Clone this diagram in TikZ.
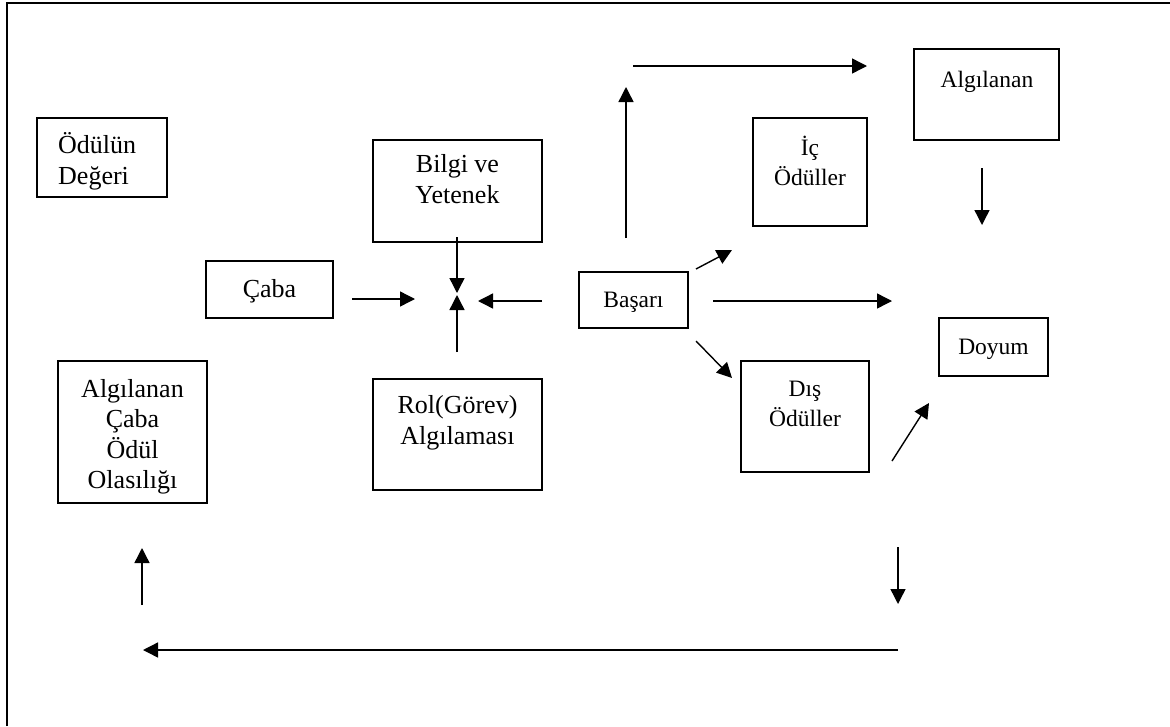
\documentclass[tikz,border=0pt]{standalone}
\usepackage{fontspec}
\setmainfont{Liberation Serif}
\usetikzlibrary{arrows.meta}
\newcommand{\txtstack}[2][c]{\begin{tabular}[t]{@{}#1@{}}#2\end{tabular}}
\begin{document}
\begin{tikzpicture}[x=1pt,y=-1pt,
  box/.style={draw, line width=1.5pt, rectangle, inner sep=0pt},
  lbl/.style={anchor=base, inner sep=0pt, font=\fontsize{26}{31}\selectfont},
  lblr/.style={anchor=base, inner sep=0pt, font=\fontsize{23.5}{30}\selectfont},
  arr/.style={line width=1.4pt, -{Triangle[length=15pt,width=15pt]}}]
\useasboundingbox (0,0) rectangle (1170,726);
% outer frame (left and top edges)
\draw[line width=2pt] (6.5,726) -- (6.5,3) -- (1170,3);

% boxes
\node[box, minimum width=130pt, minimum height=79pt]  (odul)    at (102,157.5) {};
\node[box, minimum width=169pt, minimum height=102pt] (bilgi)   at (457.5,191) {};
\node[box, minimum width=127pt, minimum height=57pt]  (caba)    at (269.5,289.5) {};
\node[box, minimum width=169pt, minimum height=111pt] (rol)     at (457.5,434.5) {};
\node[box, minimum width=109pt, minimum height=56pt]  (basari)  at (633.5,300) {};
\node[box, minimum width=114pt, minimum height=108pt] (ic)      at (810,172) {};
\node[box, minimum width=145pt, minimum height=91pt]  (algtr)   at (986.5,94.5) {};
\node[box, minimum width=128pt, minimum height=111pt] (dis)     at (805,416.5) {};
\node[box, minimum width=109pt, minimum height=58pt]  (doyum)   at (993.5,347) {};
\node[box, minimum width=149pt, minimum height=142pt] (olasilik) at (132.5,432) {};

% labels
\node[lbl, anchor=base west] (todul) at (58,153) {\txtstack[l]{Ödülün\\Değeri}};
\node[lbl] (tbilgi) at (457.5,172) {\txtstack{Bilgi ve\\Yetenek}};
\node[lbl] (tcaba) at (269.5,297) {Çaba};
\node[lbl] (trol) at (457.5,413) {\txtstack{Rol(Görev)\\Algılaması}};
\node[lblr] (tbasari) at (633.5,307) {Başarı};
\node[lblr] (tic) at (810,155) {\txtstack{İç\\Ödüller}};
\node[lblr] (talgtr) at (987,87) {Algılanan};
\node[lblr] (tdis) at (805,396) {\txtstack{Dış\\Ödüller}};
\node[lblr] (tdoyum) at (993.5,354) {Doyum};
\node[lbl, font=\fontsize{26}{30.5}\selectfont] (tolasilik) at (132.5,397) {\txtstack{Algılanan\\Çaba\\Ödül\\Olasılığı}};

% connector end points
\coordinate (bilgiS) at (457,237);   \coordinate (bilgiE) at (457,293);
\coordinate (rolS) at (457,352);     \coordinate (rolE) at (457,295);
\coordinate (cabaS) at (352,299);    \coordinate (cabaE) at (415,299);
\coordinate (basL) at (542,301);     \coordinate (basLE) at (478,301);
\coordinate (basIc) at (696,269);    \coordinate (icE) at (732,250);
\coordinate (basR) at (713,301);     \coordinate (basRE) at (892,301);
\coordinate (basDis) at (696,341);   \coordinate (disE) at (732,378);
\coordinate (disS) at (892,461);     \coordinate (doyE) at (929,403);
\coordinate (basU) at (626,238);     \coordinate (basUE) at (626,87);
\coordinate (topS) at (633,66);      \coordinate (topE) at (867,66);
\coordinate (algS) at (982,168);     \coordinate (algE) at (982,225);
\coordinate (brS) at (898,547);      \coordinate (brE) at (898,604);
\coordinate (botS) at (898,650);     \coordinate (botE) at (143,650);
\coordinate (lupS) at (142,605);     \coordinate (lupE) at (142,548);

% connectors
\draw[arr] (bilgiS) -- (bilgiE);
\draw[arr] (rolS) -- (rolE);
\draw[arr] (cabaS) -- (cabaE);
\draw[arr] (basL) -- (basLE);
\draw[arr] (basIc) -- (icE);
\draw[arr] (basR) -- (basRE);
\draw[arr] (basDis) -- (disE);
\draw[arr] (disS) -- (doyE);
\draw[arr] (basU) -- (basUE);
\draw[arr] (topS) -- (topE);
\draw[arr] (algS) -- (algE);
\draw[arr] (brS) -- (brE);
\draw[arr] (botS) -- (botE);
\draw[arr] (lupS) -- (lupE);
\end{tikzpicture}
\end{document}
